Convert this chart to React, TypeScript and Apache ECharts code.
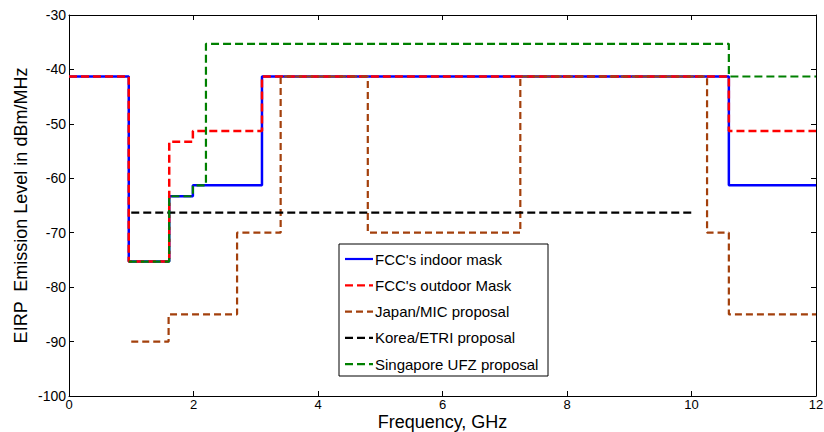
import React, { useEffect, useRef } from "react";
import * as echarts from "echarts";

const xTicks = [0, 2, 4, 6, 8, 10, 12];
const seriesNames = [
  "FCC's indoor mask",
  "FCC's outdoor Mask",
  "Japan/MIC proposal",
  "Korea/ETRI proposal",
  "Singapore UFZ proposal",
];

const indoorEdges = [0, 0.96, 1.61, 1.99, 3.1, 10.6, 12];
const indoorLevels = [-41.3, -75.3, -63.3, -61.3, -41.3, -61.3];

const outdoorEdges = [0, 0.96, 1.61, 1.99, 3.1, 10.6, 12];
const outdoorLevels = [-41.3, -75.3, -53.3, -51.3, -41.3, -51.3];

const japanEdges = [1.0, 1.6, 2.7, 3.4, 4.8, 7.25, 10.25, 10.6, 12];
const japanLevels = [-90, -85, -70, -41.3, -70, -41.3, -70, -85];

const koreaEdges = [1.0, 10.0];
const koreaLevels = [-66.3];

const singaporeEdges = [0.96, 1.61, 1.99, 2.2, 10.6, 12];
const singaporeLevels = [-75.3, -63.3, -61.3, -35.3, -41.3];

const colors = ["#0000ff", "#ff0000", "#a3400c", "#000000", "#008000"];

function stepData(edges: number[], levels: number[]) {
  const out: number[][] = [];
  for (let i = 0; i < levels.length; i++) {
    out.push([edges[i], levels[i]]);
    out.push([edges[i + 1], levels[i]]);
  }
  return out;
}

export default function App() {
  const ref = useRef<HTMLDivElement>(null);
  useEffect(() => {
    if (!ref.current) return;
    const chart = echarts.init(ref.current, null, { renderer: "svg", width: 824, height: 432 });
    const font = "Arial, 'Liberation Sans', sans-serif";
    const datasets = [
      stepData(indoorEdges, indoorLevels),
      stepData(outdoorEdges, outdoorLevels),
      stepData(japanEdges, japanLevels),
      stepData(koreaEdges, koreaLevels),
      stepData(singaporeEdges, singaporeLevels),
    ];
    const dashes: any[] = ["solid", [8, 4], [7, 4], [8, 4], [8, 4]];
    const dashArr: any[] = [null, [8, 4], [7, 4], [8, 4], [8, 4]];
    const widths = [2.5, 2.5, 2.2, 2.2, 2.2];

    const legendX = 339;
    const legendY = 244;
    const legendW = 209;
    const legendH = 132;
    const rowY0 = 259;
    const rowStep = 26.3;
    const legendChildren: any[] = [
      {
        type: "rect",
        shape: { x: legendX, y: legendY, width: legendW, height: legendH },
        style: { fill: "#ffffff", stroke: "#000000", lineWidth: 1 },
      },
    ];
    seriesNames.forEach((name, i) => {
      const y = rowY0 + i * rowStep;
      legendChildren.push({
        type: "line",
        shape: { x1: 345, y1: y, x2: 373, y2: y },
        style: { stroke: colors[i], lineWidth: 2.2, lineDash: dashArr[i] },
      });
      legendChildren.push({
        type: "text",
        x: 375,
        y: y,
        style: {
          text: name,
          fill: "#000",
          font: `15px ${font}`,
          textVerticalAlign: "middle",
          verticalAlign: "middle",
        },
      });
    });

    const axisCommon = {
      axisLine: { show: true, onZero: false, lineStyle: { color: "#000", width: 1 } },
      axisTick: { show: true, inside: true, length: 5, lineStyle: { color: "#000" } },
      splitLine: { show: false },
    };

    chart.setOption({
      animation: false,
      backgroundColor: "#ffffff",
      grid: {
        left: 69,
        right: 8,
        top: 15,
        bottom: 36,
        containLabel: false,
        outerBoundsMode: "none",
      },
      xAxis: [
        {
          type: "value",
          min: 0,
          max: 12,
          interval: 2,
          name: "Frequency, GHz",
          nameLocation: "middle",
          nameGap: 17,
          nameMoveOverlap: false,
          nameTextStyle: { fontFamily: font, fontSize: 18, color: "#000", verticalAlign: "top" },
          ...axisCommon,
          axisLabel: {
            fontFamily: font,
            fontSize: 13,
            color: "#000",
            margin: 2,
            formatter: (v: number) => (xTicks.includes(v) ? String(v) : ""),
          },
        },
        {
          type: "value",
          position: "top",
          min: 0,
          max: 12,
          interval: 2,
          ...axisCommon,
          axisLabel: { show: false },
        },
      ],
      yAxis: [
        {
          type: "value",
          min: -100,
          max: -30,
          interval: 10,
          name: "EIRP  Emission Level in dBm/MHz",
          nameLocation: "middle",
          nameGap: 39,
          nameMoveOverlap: false,
          nameRotate: 90,
          nameTextStyle: { fontFamily: font, fontSize: 18, color: "#000", verticalAlign: "bottom" },
          ...axisCommon,
          axisLabel: { fontFamily: font, fontSize: 14, color: "#000", margin: 3 },
        },
        {
          type: "value",
          position: "right",
          min: -100,
          max: -30,
          interval: 10,
          ...axisCommon,
          axisLabel: { show: false },
        },
      ],
      graphic: [{ type: "group", z: 100, children: legendChildren }],
      series: seriesNames.map((name, i) => ({
        name,
        type: "line",
        xAxisIndex: 0,
        yAxisIndex: 0,
        data: datasets[i],
        showSymbol: false,
        symbol: "none",
        color: colors[i],
        lineStyle: { color: colors[i], width: widths[i], type: dashes[i] },
        z: 2 + i,
      })),
    });
    return () => chart.dispose();
  }, []);
  return (
    <div
      ref={ref}
      style={{ position: "fixed", left: 0, top: 0, width: 824, height: 432, background: "#fff" }}
    />
  );
}
